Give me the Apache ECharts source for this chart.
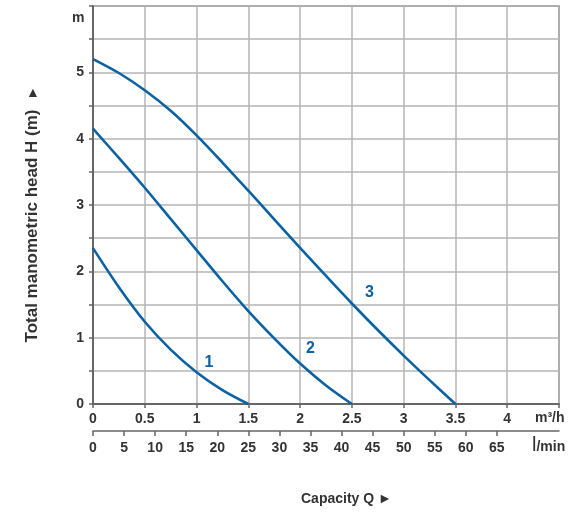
<!DOCTYPE html>
<html>
<head>
<meta charset="utf-8">
<style>
html,body{margin:0;padding:0;background:#fff;}
#chart{width:571px;height:513px;}
</style>
<script src="https://cdn.jsdelivr.net/npm/echarts@6/dist/echarts.min.js"></script>
</head>
<body>
<div id="chart"></div>
<script>
// Data (Q in m³/h, H in m)
var curve1 = [[0,2.35],[0.25,1.76],[0.5,1.24],[0.75,0.82],[1.0,0.48],[1.25,0.21],[1.5,0]];
var curve2 = [[0,4.15],[0.25,3.71],[0.5,3.26],[0.75,2.79],[1.0,2.32],[1.25,1.85],[1.5,1.40],[1.75,0.99],[2.0,0.61],[2.25,0.28],[2.5,0]];
var curve3 = [[0,5.2],[0.25,4.99],[0.5,4.73],[0.75,4.42],[1.0,4.05],[1.25,3.64],[1.5,3.215],[1.75,2.785],[2.0,2.355],[2.25,1.93],[2.5,1.515],[2.75,1.115],[3.0,0.73],[3.25,0.36],[3.5,0]];
var curveNames = ['1','2','3'];
var curveLabelPos = [[1.12,0.63],[2.10,0.84],[2.67,1.68]];
var qTicks = [0,0.5,1,1.5,2,2.5,3,3.5,4];
var lminTicks = [0,5,10,15,20,25,30,35,40,45,50,55,60,65];
var hTicks = [0,1,2,3,4,5];

var FONT = "'Liberation Sans', Arial, Helvetica, sans-serif";
var TXT = '#333333';
var BLUE = '#0a62a3';

var chart = echarts.init(document.getElementById('chart'), null, {renderer:'canvas'});

var series = [curve1, curve2, curve3].map(function(d){
  return {
    type: 'line', data: d, smooth: 0.3, symbol: 'none', xAxisIndex: 0, yAxisIndex: 0,
    lineStyle: {color: BLUE, width: 2.6}, z: 5, silent: true
  };
});
series.push({
  type: 'scatter', xAxisIndex: 0, yAxisIndex: 0, symbolSize: 0, silent: true,
  itemStyle: {opacity: 1, color: BLUE},
  data: curveLabelPos.map(function(p, i){ return {value: p, name: curveNames[i]}; }),
  label: {show: true, position: 'inside', formatter: '{b}', color: BLUE, opacity: 1, fontFamily: FONT, fontWeight: 'bold', fontSize: 16}
});

chart.setOption({
  animation: false,
  backgroundColor: '#ffffff',
  grid: {left: 93, right: 12, top: 6, bottom: 109, show: true, borderColor: '#7a7a7a', borderWidth: 1.5, backgroundColor: 'transparent'},
  xAxis: [{
    type: 'value', min: 0, max: 4.5, interval: 0.5, position: 'bottom',
    axisLine: {show: true, onZero: false, lineStyle: {color: '#666', width: 2}},
    axisTick: {show: true, length: 4, lineStyle: {color: '#666', width: 1.5}},
    axisLabel: {customValues: qTicks, margin: 8, color: TXT, fontFamily: FONT, fontWeight: 'bold', fontSize: 14},
    splitLine: {show: true, lineStyle: {color: '#b4b4b4', width: 1.5}}
  }, {
    type: 'value', min: 0, max: 75, interval: 5, position: 'bottom', offset: 27,
    axisLine: {show: true, onZero: false, lineStyle: {color: '#666', width: 1.5}},
    axisTick: {show: true, customValues: lminTicks, length: 5, lineStyle: {color: '#666', width: 1.5}},
    axisLabel: {customValues: lminTicks, margin: 10, color: TXT, fontFamily: FONT, fontWeight: 'bold', fontSize: 14},
    splitLine: {show: false}
  }],
  yAxis: [{
    type: 'value', min: 0, max: 6, interval: 0.5,
    axisLine: {show: true, onZero: false, lineStyle: {color: '#666', width: 2}},
    axisTick: {show: true, length: 4, lineStyle: {color: '#666', width: 1.5}},
    axisLabel: {customValues: hTicks, margin: 9, color: TXT, fontFamily: FONT, fontWeight: 'bold', fontSize: 14},
    splitLine: {show: true, lineStyle: {color: '#b4b4b4', width: 1.5}}
  }],
  graphic: [
    {type: 'text', left: 72, top: 11, style: {text: 'm', fill: TXT, font: 'bold 14px ' + FONT}},
    {type: 'text', left: 535, top: 411, style: {text: 'm³/h', fill: TXT, font: 'bold 14px ' + FONT}},
    {type: 'text', left: 532, top: 435, style: {
      text: '{a|l}{b|/min}', fill: TXT,
      rich: {a: {fontFamily: FONT, fontSize: 20, fontWeight: 'normal', fill: TXT, verticalAlign: 'bottom'},
             b: {fontFamily: FONT, fontSize: 14, fontWeight: 'bold', fill: TXT, verticalAlign: 'bottom', padding: [0,0,1,0]}}
    }},
    {type: 'text', x: 301, y: 499, style: {text: 'Capacity Q ►', fill: TXT, font: 'bold 14px ' + FONT, textAlign: 'left', textVerticalAlign: 'middle'}},
    {type: 'text', x: 32, y: 226, rotation: Math.PI/2, style: {text: 'Total manometric head H (m)', fill: TXT, font: 'bold 17px ' + FONT, textAlign: 'center', textVerticalAlign: 'middle'}},
    {type: 'text', x: 33, y: 93, style: {text: '▲', fill: TXT, font: '14px ' + FONT, textAlign: 'center', textVerticalAlign: 'middle'}}
  ],
  series: series
});
</script>
</body>
</html>
